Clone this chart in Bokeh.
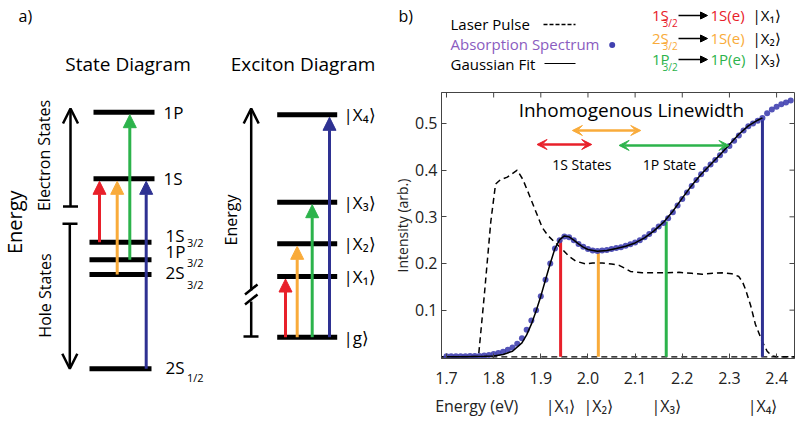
import numpy as np
from bokeh.plotting import figure
from bokeh.models import (Range1d, FixedTicker, LinearAxis, Arrow, NormalHead,
                          OpenHead, VeeHead, PrintfTickFormatter)
from bokeh.layouts import row, column
from bokeh.core.properties import value
from bokeh.embed import file_html
from bokeh.resources import INLINE

FONT = "Open Sans"
RED = "#e8202a"
ORANGE = "#f9ab3a"
GREEN = "#2cb34b"
BLUE = "#2e3192"
DOT = "#4141b0"
PURPLE = "#8a5cc0"

# ---------------- panel b) data ----------------
energy = [1.70, 1.71, 1.72, 1.73, 1.74, 1.75, 1.76, 1.77, 1.78, 1.79,
          1.80, 1.81, 1.82, 1.83, 1.84, 1.85, 1.86, 1.87, 1.88, 1.89,
          1.90, 1.91, 1.92, 1.93, 1.94, 1.95, 1.96, 1.97, 1.98, 1.99,
          2.00, 2.01, 2.02, 2.03, 2.04, 2.05, 2.06, 2.07, 2.08, 2.09,
          2.10, 2.11, 2.12, 2.13, 2.14, 2.15, 2.16, 2.17, 2.18, 2.19,
          2.20, 2.21, 2.22, 2.23, 2.24, 2.25, 2.26, 2.27, 2.28, 2.29,
          2.30, 2.31, 2.32, 2.33, 2.34, 2.35, 2.36, 2.37, 2.38, 2.39,
          2.40, 2.41, 2.42, 2.43]
absorption = [0.001, 0.001, 0.001, 0.001, 0.001, 0.002, 0.002, 0.002, 0.003, 0.004,
              0.006, 0.008, 0.011, 0.015, 0.020, 0.028, 0.040, 0.058, 0.078, 0.100,
              0.130, 0.165, 0.200, 0.232, 0.250, 0.258, 0.256, 0.250, 0.242, 0.236,
              0.231, 0.228, 0.227, 0.228, 0.229, 0.231, 0.233, 0.235, 0.238, 0.241,
              0.245, 0.250, 0.256, 0.263, 0.271, 0.279, 0.287, 0.297, 0.310, 0.324,
              0.338, 0.352, 0.366, 0.379, 0.391, 0.402, 0.412, 0.422, 0.432, 0.442,
              0.452, 0.463, 0.474, 0.485, 0.494, 0.500, 0.506, 0.512, 0.522, 0.530,
              0.536, 0.541, 0.545, 0.549]

fit_energy = [1.70, 1.74, 1.78, 1.80, 1.82, 1.84, 1.86, 1.87, 1.88, 1.89,
              1.90, 1.91, 1.92, 1.93, 1.94, 1.95, 1.96, 1.97, 1.98, 1.99,
              2.00, 2.02, 2.04, 2.06, 2.08, 2.10, 2.12, 2.14, 2.16, 2.18,
              2.20, 2.22, 2.24, 2.26, 2.28, 2.30, 2.32, 2.34, 2.36, 2.37]
gaussian_fit = [0.000, 0.000, 0.001, 0.002, 0.005, 0.012, 0.030, 0.047, 0.070, 0.098,
                0.130, 0.165, 0.200, 0.232, 0.251, 0.259, 0.257, 0.250, 0.242, 0.235,
                0.230, 0.226, 0.228, 0.232, 0.237, 0.244, 0.255, 0.270, 0.288, 0.312,
                0.340, 0.367, 0.391, 0.412, 0.433, 0.455, 0.477, 0.495, 0.507, 0.512]

laser_energy = [1.689, 1.768, 1.780, 1.794, 1.804, 1.815, 1.829, 1.850, 1.862, 1.875,
                1.890, 1.903, 1.915, 1.927, 1.946, 1.960, 1.974, 1.995, 2.010, 2.030,
                2.050, 2.066, 2.078, 2.090, 2.115, 2.150, 2.193, 2.220, 2.242, 2.265,
                2.285, 2.305, 2.320, 2.328, 2.334, 2.345, 2.355, 2.369, 2.380, 2.390,
                2.400, 2.438]
laser_pulse = [0.0, 0.002, 0.13, 0.29, 0.37, 0.38, 0.385, 0.40, 0.38, 0.348,
               0.31, 0.277, 0.26, 0.248, 0.23, 0.215, 0.205, 0.199, 0.201, 0.201,
               0.199, 0.196, 0.19, 0.183, 0.18, 0.18, 0.181, 0.179, 0.177, 0.179,
               0.18, 0.178, 0.172, 0.16, 0.145, 0.11, 0.07, 0.034, 0.012, 0.002,
               0.0, 0.0]
baseline_energy = [1.689, 2.438]
baseline = [0.0, 0.0]

transition_energy = [1.942, 2.022, 2.166, 2.370]
transition_peak = [0.250, 0.228, 0.290, 0.512]
transition_color = [RED, ORANGE, GREEN, BLUE]
ket_label = ["|X\u2081\u27e9", "|X\u2082\u27e9", "|X\u2083\u27e9", "|X\u2084\u27e9"]

lw_start = [1.892, 1.967, 2.066]
lw_end = [2.008, 2.112, 2.299]
lw_level = [0.455, 0.485, 0.453]
lw_color = [RED, ORANGE, GREEN]

x_ticks = [1.7, 1.8, 1.9, 2.0, 2.1, 2.2, 2.3, 2.4]
y_ticks = [0.1, 0.2, 0.3, 0.4, 0.5]

# ---------------- panel a) diagram data (diagram units = page px) ----------------
state_level_y = [111.7, 178.3, 241.7, 259.3, 274.0, 368.3]
state_level_x0 = [93, 93, 89, 89, 89, 89]
state_level_x1 = [154, 154, 151, 151, 151, 151]
state_label = ["1P", "1S", "1S", "1P", "2S", "2S"]
state_label_x = [163, 163, 165, 165, 165, 165]
state_label_y = [112, 178, 235, 250.5, 272, 367]
state_sub = ["3/2", "3/2", "3/2", "1/2"]
state_sub_y = [242, 262, 284, 377]

st_arrow_x = [99, 116.7, 129.3, 145.7]
st_arrow_from = [241.7, 274.0, 259.3, 368.3]
st_arrow_to = [178.3, 178.3, 111.7, 178.3]
arrow_color = [RED, ORANGE, GREEN, BLUE]

exc_level_y = [114.3, 201.7, 243.3, 276.0, 336.7]
exc_label = ["|X\u2084\u27e9", "|X\u2083\u27e9", "|X\u2082\u27e9", "|X\u2081\u27e9", "|g\u27e9"]
exc_arrow_x = [285, 296.7, 311.7, 329]
exc_arrow_to = [276.0, 243.3, 201.7, 114.3]

# legend rows of panel b
row_y = [14, 37, 58]
from_lbl = ["1S", "2S", "1P"]
to_lbl = ["1S(e)", "1S(e)", "1P(e)"]

W_LEFT, W_RIGHT, H_TOTAL, H_LEG = 388, 412, 421, 88


def no_align(fig):
    if "frame_align" in fig.properties():
        fig.frame_align = False
    return fig


def txt(fig, x, y, t, size, color="black", align="left", angle=0.0):
    fig.text(x=x, y=y, text=t, text_font=value(FONT), text_font_size=value(size),
             text_color=color, text_align=align, text_baseline="middle", angle=angle)


# ================= left figure: panel a =================
L = no_align(figure(width=W_LEFT, height=H_TOTAL, x_range=Range1d(0, W_LEFT),
                    y_range=Range1d(H_TOTAL, 0),
                    toolbar_location=None, output_backend="svg", min_border=0,
                    x_axis_location=None, y_axis_location=None))
L.grid.visible = False
L.outline_line_color = None

txt(L, [18], [15], ["a)"], "16px")
txt(L, [127.5, 302.5], [63, 63], ["State Diagram", "Exciton Diagram"], "19px", align="center")
txt(L, [14], [221.7], ["Energy"], "20px", align="center", angle=np.pi / 2)
txt(L, [43, 44], [155, 295], ["Electron States", "Hole States"], "16px",
    align="center", angle=np.pi / 2)
txt(L, [230], [219.5], ["Energy"], "16px", align="center", angle=np.pi / 2)

L.segment(x0=state_level_x0, y0=state_level_y, x1=state_level_x1, y1=state_level_y,
          line_color="black", line_width=5)
txt(L, state_label_x, state_label_y, state_label, "17px")
txt(L, [186.5] * len(state_sub), state_sub_y, state_sub, "11px")

for x, y0, y1, c in zip(st_arrow_x, st_arrow_from, st_arrow_to, arrow_color):
    L.add_layout(Arrow(end=NormalHead(size=13, fill_color=c, line_color=c, line_width=1),
                       x_start=x, y_start=y0, x_end=x, y_end=y1 + 2.5,
                       line_color=c, line_width=3))

L.add_layout(Arrow(end=OpenHead(size=15, line_width=2.5, line_color="black"),
                   x_start=70, y_start=206, x_end=70, y_end=108,
                   line_width=2.5, line_color="black"))
L.add_layout(Arrow(end=OpenHead(size=15, line_width=2.5, line_color="black"),
                   x_start=69.3, y_start=223.3, x_end=69.3, y_end=368.3,
                   line_width=2.5, line_color="black"))
L.segment(x0=[62.5, 62], y0=[206, 223.3], x1=[77.5, 77], y1=[206, 223.3],
          line_color="black", line_width=2.5)

L.segment(x0=[276.7] * 5, y0=exc_level_y, x1=[336.7] * 5, y1=exc_level_y,
          line_color="black", line_width=5)
txt(L, [343] * 5, exc_level_y, exc_label, "17px")
for x, y1, c in zip(exc_arrow_x, exc_arrow_to, arrow_color):
    L.add_layout(Arrow(end=NormalHead(size=13, fill_color=c, line_color=c, line_width=1),
                       x_start=x, y_start=336.7, x_end=x, y_end=y1 + 2.5,
                       line_color=c, line_width=3))

L.add_layout(Arrow(end=OpenHead(size=15, line_width=2.5, line_color="black"),
                   x_start=250.7, y_start=290, x_end=250.7, y_end=108,
                   line_width=2.5, line_color="black"))
L.segment(x0=[250.7, 243, 244.5, 244.5], y0=[301, 336, 294, 304],
          x1=[250.7, 258, 257, 257], y1=[336, 336, 284, 294],
          line_color="black", line_width=2.5)

# ================= legend figure (top of panel b) =================
G = no_align(figure(width=W_RIGHT, height=H_LEG, x_range=Range1d(W_LEFT, W_LEFT + W_RIGHT),
                    y_range=Range1d(H_LEG, 0),
                    toolbar_location=None, output_backend="svg", min_border=0,
                    x_axis_location=None, y_axis_location=None))
G.grid.visible = False
G.outline_line_color = None

txt(G, [398], [15], ["b)"], "16px")
txt(G, [450], [23], ["Laser Pulse"], "15px")
txt(G, [450], [43], ["Absorption Spectrum"], "15px", color=PURPLE)
txt(G, [450], [63], ["Gaussian Fit"], "15px")
G.line(x=[543, 575], y=[24, 24], line_color="black", line_width=1.5, line_dash="4 2")
G.scatter(x=[611.7], y=[44.5], marker="circle", size=6, fill_color=DOT, line_color=None)
G.line(x=[544, 575], y=[63, 63], line_color="black", line_width=1.2)

for yy, a, b, c, k in zip(row_y, from_lbl, to_lbl, lw_color, ket_label[:3]):
    txt(G, [651.5], [yy], [a], "15px", color=c)
    txt(G, [662], [yy + 8], ["3/2"], "10px", color=c)
    txt(G, [710], [yy], [b], "15px", color=c)
    txt(G, [752], [yy], [k], "15px")
    G.add_layout(Arrow(end=NormalHead(size=7, fill_color="black", line_color="black"),
                       x_start=678, y_start=yy + 1, x_end=707, y_end=yy + 1,
                       line_color="black", line_width=1.3))

# ================= spectrum figure (panel b) =================
P = no_align(figure(width=W_RIGHT, height=H_TOTAL - H_LEG, x_range=Range1d(1.6894, 2.438),
                    y_range=Range1d(-0.0036, 0.5664), toolbar_location=None,
                    output_backend="svg", min_border_left=53, min_border_right=6,
                    min_border_top=4, min_border_bottom=63))
P.grid.visible = False
P.outline_line_color = "#444444"

xa = P.below[0]
ya = P.left[0]
for ax, tk in ((xa, x_ticks), (ya, y_ticks)):
    ax.ticker = FixedTicker(ticks=tk)
    ax.formatter = PrintfTickFormatter(format="%.1f")
    ax.major_tick_in = 5
    ax.major_tick_out = 0
    ax.minor_tick_line_color = None
    ax.axis_line_color = "#444444"
    ax.major_tick_line_color = "#444444"
    ax.major_label_text_font = FONT
    ax.major_label_text_font_size = "16px"
    ax.major_label_text_color = "#222222"
xa.major_label_standoff = 13
ya.major_label_standoff = 4
ya.axis_label = "Intensity (arb.)"
ya.axis_label_text_font = FONT
ya.axis_label_text_font_size = "14px"
ya.axis_label_text_font_style = "normal"
ya.axis_label_text_color = "#222222"
ya.axis_label_standoff = 0

ket_ticks = [1.764] + transition_energy
ket_axis = LinearAxis(ticker=FixedTicker(ticks=ket_ticks),
                      major_label_overrides={t: l for t, l in
                                             zip(ket_ticks, ["Energy (eV)"] + ket_label)},
                      axis_line_color=None, major_tick_line_color=None,
                      minor_tick_line_color=None, major_label_standoff=2,
                      major_label_text_font=FONT, major_label_text_font_size="16px",
                      major_label_text_color="#222222")
P.add_layout(ket_axis, "below")

# mirrored inward ticks on the top and right frame edges (half clipped by the frame)
P.scatter(x=x_ticks, y=[P.y_range.end] * len(x_ticks), marker="dash", angle=np.pi / 2,
          size=10, line_color="#444444", line_width=1)
P.scatter(x=[P.x_range.end] * len(y_ticks), y=y_ticks, marker="dash",
          size=10, line_color="#444444", line_width=1)

P.line(x=baseline_energy, y=baseline, line_color="black", line_width=1.3, line_dash="6 4")
P.line(x=laser_energy, y=laser_pulse, line_color="black", line_width=1.5, line_dash="6 4")

P.segment(x0=transition_energy, y0=[0] * 4, x1=transition_energy, y1=transition_peak,
          line_color=transition_color, line_width=3)

P.scatter(x=energy, y=absorption, marker="circle", size=6, fill_color=DOT,
          line_color=None, fill_alpha=0.9)
P.line(x=fit_energy, y=gaussian_fit, line_color="black", line_width=1.5)

for s, e, lv, c in zip(lw_start, lw_end, lw_level, lw_color):
    P.add_layout(Arrow(start=VeeHead(size=10, fill_color=c, line_color=c),
                       end=VeeHead(size=10, fill_color=c, line_color=c),
                       x_start=s, y_start=lv, x_end=e, y_end=lv,
                       line_color=c, line_width=2.5))

P.text(x=[2.092], y=[0.529], text=["Inhomogenous Linewidth"], text_font=value(FONT),
       text_font_size=value("19px"), text_align="center", text_baseline="middle")
P.text(x=[1.987, 2.173], y=[0.412, 0.412], text=["1S States", "1P State"],
       text_font=value(FONT), text_font_size=value("14px"), text_align="center",
       text_baseline="middle")

layout = row(L, column(row(G), row(P)))
open("out.html", "w").write(file_html(layout, INLINE))
